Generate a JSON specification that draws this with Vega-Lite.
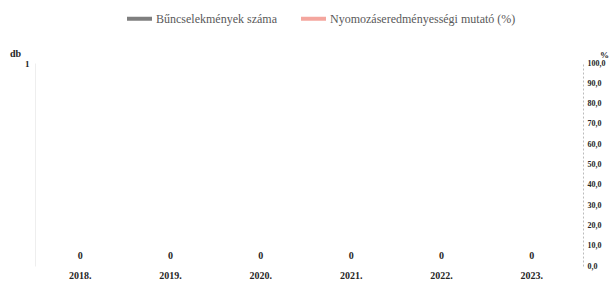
{
  "$schema": "https://vega.github.io/schema/vega-lite/v6.json",
  "autosize": {"type": "none"},
  "width": 542,
  "height": 203,
  "padding": {"left": 35, "top": 63, "right": 36, "bottom": 16},
  "background": "white",
  "config": {
    "view": {"stroke": null},
    "font": "Liberation Serif",
    "legend": {
      "orient": "none",
      "legendX": 90,
      "legendY": -59,
      "direction": "horizontal",
      "symbolType": "stroke",
      "symbolSize": 625,
      "symbolStrokeWidth": 4,
      "labelFont": "Liberation Serif",
      "labelFontSize": 12,
      "labelColor": "#595959",
      "labelOffset": 2,
      "labelLimit": 400,
      "columnPadding": 16,
      "title": null
    }
  },
  "data": {
    "values": [
      {"ev": "2018.", "db": 0, "pct": null},
      {"ev": "2019.", "db": 0, "pct": null},
      {"ev": "2020.", "db": 0, "pct": null},
      {"ev": "2021.", "db": 0, "pct": null},
      {"ev": "2022.", "db": 0, "pct": null},
      {"ev": "2023.", "db": 0, "pct": null}
    ]
  },
  "encoding": {
    "x": {
      "field": "ev",
      "type": "ordinal",
      "title": null,
      "axis": {
        "domain": false,
        "ticks": false,
        "labelAngle": 0,
        "labelFont": "Liberation Serif",
        "labelFontSize": 10,
        "labelFontWeight": "bold",
        "labelColor": "#262626",
        "labelPadding": 4
      }
    }
  },
  "layer": [
    {
      "layer": [
        {
          "mark": {"type": "bar", "width": 40},
          "encoding": {
            "y": {
              "field": "db",
              "type": "quantitative",
              "scale": {"domain": [0, 1]},
              "axis": {
                "values": [1],
                "format": "d",
                "title": "db",
                "titleAngle": 0,
                "titleX": -20,
                "titleY": -10,
                "titleAlign": "center",
                "titleBaseline": "middle",
                "titleFont": "Liberation Serif",
                "titleFontSize": 10,
                "titleFontWeight": "bold",
                "titleColor": "#262626",
                "labelFont": "Liberation Serif",
                "labelFontSize": 9,
                "labelFontWeight": "bold",
                "labelColor": "#262626",
                "labelPadding": 6,
                "ticks": false,
                "grid": false,
                "domainColor": "#eeeeee"
              }
            },
            "color": {
              "datum": "Bűncselekmények száma",
              "type": "nominal",
              "scale": {
                "domain": ["Bűncselekmények száma", "Nyomozáseredményességi mutató (%)"],
                "range": ["#7f7f7f", "#f4a69e"]
              }
            }
          }
        },
        {
          "mark": {"type": "text", "dy": -10, "font": "Liberation Serif", "fontSize": 10, "fontWeight": "bold", "color": "#262626"},
          "encoding": {
            "y": {"field": "db", "type": "quantitative"},
            "text": {"field": "db", "type": "quantitative"}
          }
        }
      ]
    },
    {
      "mark": {"type": "line", "strokeWidth": 2.5},
      "encoding": {
        "y": {
          "field": "pct",
          "type": "quantitative",
          "scale": {"domain": [0, 100]},
          "axis": {
            "orient": "right",
            "values": [0, 10, 20, 30, 40, 50, 60, 70, 80, 90, 100],
            "labelExpr": "replace(format(datum.value, '.1f'), '.', ',')",
            "title": "%",
            "titleAngle": 0,
            "titleX": 21,
            "titleY": -9,
            "titleAlign": "center",
            "titleBaseline": "middle",
            "titleFont": "Liberation Serif",
            "titleFontSize": 9,
            "titleFontWeight": "bold",
            "titleColor": "#262626",
            "labelFont": "Liberation Serif",
            "labelFontSize": 8,
            "labelFontWeight": "bold",
            "labelColor": "#262626",
            "labelPadding": 4,
            "ticks": false,
            "grid": false,
            "domainColor": "#bbbbbb",
            "domainDash": [2, 2],
            "offset": 6
          }
        },
        "color": {"datum": "Nyomozáseredményességi mutató (%)", "type": "nominal"}
      }
    }
  ],
  "resolve": {"scale": {"y": "independent"}}
}
